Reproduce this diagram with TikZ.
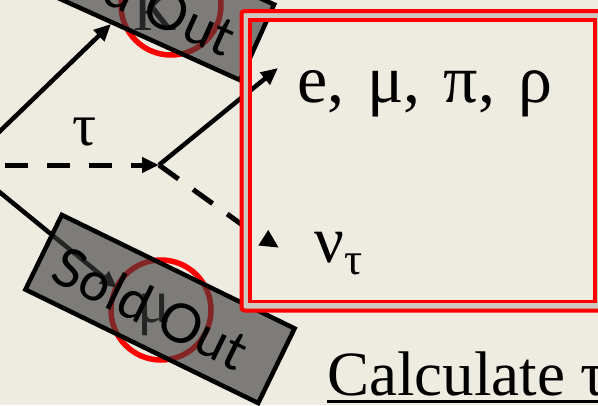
\documentclass[tikz,border=0pt]{standalone}
\usepackage{fontspec}
\setmainfont{Liberation Serif}
\newfontfamily\soldfont{Lato}
\usetikzlibrary{arrows.meta}
\definecolor{bg}{RGB}{238,235,225}
\definecolor{boxgray}{RGB}{60,60,60}
\definecolor{framegap}{RGB}{205,201,192}
\definecolor{slidered}{RGB}{255,0,0}
\begin{document}
\begin{tikzpicture}[x=1pt,y=-1pt,
  conn/.style={line width=4.5pt},
  tip/.style={-{Triangle[length=17pt,width=15pt]}},
  dashline/.style={line width=5pt, dash pattern=on 23pt off 19pt},
  soldbox/.style={draw=black, line width=4.5pt, fill=boxgray, fill opacity=0.63,
    minimum width=259pt, minimum height=83pt, inner sep=0pt},
  soldtext/.style={font=\soldfont\fontsize{54}{54}\selectfont, inner sep=0pt},
  ring/.style={draw=slidered, line width=5.5pt},
  frame/.style={draw=slidered},
  lbl/.style={inner sep=0pt, font=\fontsize{68}{68}\selectfont}
]
\useasboundingbox (0,0) rectangle (598,405);
\clip (0,0) rectangle (598,405);
\fill[bg] (0,0) rectangle (598,405);

% red rings
\draw[ring] (171,5) circle[radius=50];
\draw[ring] (161,310) circle[radius=50];

% arrows going under the boxes
\coordinate (l1) at (-3,134);
\coordinate (kt) at (111,24);
\draw[conn,tip] (l1) -- (kt);
\coordinate (l2) at (-3,190);
\coordinate (mt) at (117,288);
\draw[conn,tip] (l2) -- (mt);

% particle symbols under the boxes
\node[inner sep=0pt, anchor=base, font=\fontsize{60}{60}\selectfont] (kaon) at (155,30) {K};
\node[inner sep=0pt, anchor=base, font=\fontsize{62}{62}\selectfont] (muon) at (154,322) {μ};

% sold out boxes
\node[soldbox, rotate=-24.3] (box1) at (139,-11) {};
\node[soldbox, rotate=-26] (box2) at (160,309) {};
\node[soldtext, rotate=-24.3] (sold1) at (137,-3) {Sold Out};
\node[soldtext, rotate=-26] (sold2) at (151,308) {Sold Out};

% tau decay
\coordinate (d0) at (5,165);
\coordinate (V) at (159,165);
\draw[dashline, tip] (d0) -- (V);
\coordinate (ept) at (278,68);
\draw[conn,tip] (V) -- (ept);
\coordinate (nue) at (248,229);
\draw[dashline, dash pattern=on 24pt off 18pt] (V) -- (nue);
\fill (258.3,245.5) -- (268.3,230) -- (278.5,247.5) -- cycle;

% red frame
\fill[framegap, even odd rule] (241.5,11) rectangle (640,310.5) (250,20) rectangle (595,301.5);
\draw[frame, line width=4pt, rounded corners=3pt] (241.5,11) rectangle (640,310.5);
\draw[frame, line width=3.5pt] (250,20) rectangle (595,301.5);

% labels
\node[lbl, anchor=base, font=\fontsize{60}{60}\selectfont] (tau) at (85,145) {τ};
\node[lbl, anchor=base west] (dec) at (297,102) {e,\hspace{23pt}μ,\hspace{23pt}π,\hspace{23pt}ρ};
\node[lbl, anchor=base west, font=\fontsize{66}{66}\selectfont] (nu) at (314,262) {ν\raisebox{-12pt}{\fontsize{45}{45}\selectfont τ}};
\node[lbl, anchor=base west, font=\fontsize{63}{63}\selectfont] (calc) at (327,395) {Calculate τ};
\draw[line width=3pt] ([yshift=-6.5pt]calc.base west) -- ++(320,0);
\end{tikzpicture}
\end{document}
